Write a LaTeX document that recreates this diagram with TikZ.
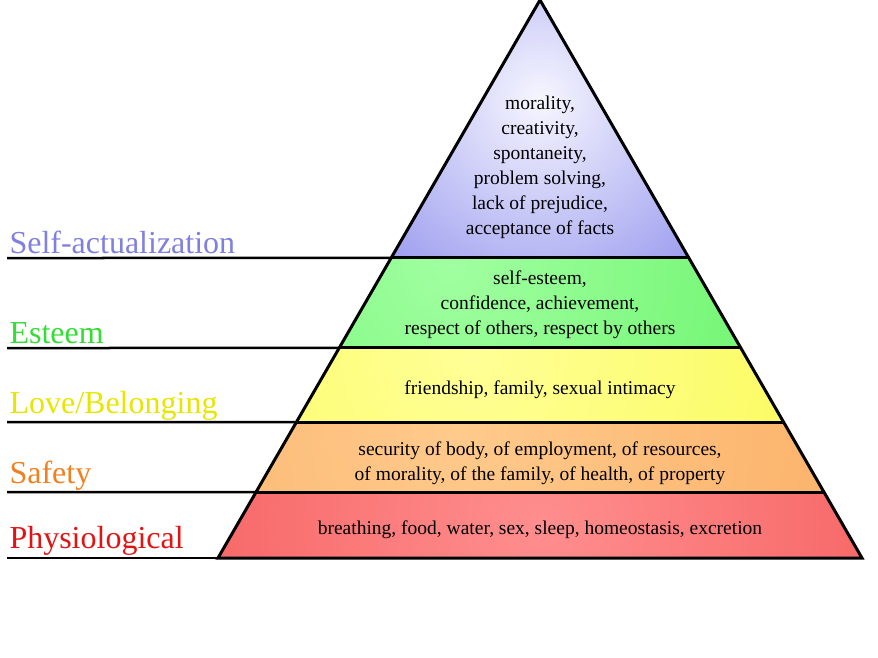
\documentclass[tikz,border=0pt]{standalone}
\usepackage{fontspec}
\setmainfont{Liberation Serif}
\usetikzlibrary{calc}

\definecolor{selfc}{HTML}{8080E0}
\definecolor{esteemc}{HTML}{33DD33}
\definecolor{lovec}{HTML}{E6E600}
\definecolor{safec}{HTML}{F08020}
\definecolor{physc}{HTML}{E01414}

\begin{document}
\begin{tikzpicture} [x=1pt, y=-1pt, line width=3pt, level/.style = {anchor=base west, inner sep=0pt, font=\fontsize{32}{34}\selectfont}, need/.style = {align=center, font=\fontsize{19.5}{25}\selectfont}]
\useasboundingbox (0,0) rectangle (878,658);
\coordinate (t) at (540,0);
\coordinate (bl) at (218,558);
\coordinate (br) at (862,558);
\foreach \n/\y in {1/258,2/348,3/422,4/492,5/558} {
	\pgfmathsetmacro{\f}{\y/558}
	\coordinate (l\n) at ($(t)!\f!(bl)$);
	\coordinate (r\n) at ($(t)!\f!(br)$);
	\coordinate (e\n) at (7,\y);
}
% shaded bands
\begin{scope}
	\clip (t) -- (r1) -- (l1) -- cycle;
	\shade[inner color={rgb,255:red,246;green,246;blue,255}, outer color={rgb,255:red,116;green,116;blue,232}] (540,100) circle (320);
\end{scope}
\begin{scope}
	\clip (l1) -- (r1) -- (r2) -- (l2) -- cycle;
	\shade[inner color={rgb,255:red,160;green,255;blue,160}, outer color={rgb,255:red,76;green,238;blue,76}] (450,265) circle (600);
\end{scope}
\begin{scope}
	\clip (l2) -- (r2) -- (r3) -- (l3) -- cycle;
	\shade[inner color={rgb,255:red,255;green,255;blue,150}, outer color={rgb,255:red,248;green,248;blue,60}] (470,355) circle (600);
\end{scope}
\begin{scope}
	\clip (l3) -- (r3) -- (r4) -- (l4) -- cycle;
	\shade[inner color={rgb,255:red,255;green,202;blue,140}, outer color={rgb,255:red,248;green,160;blue,80}] (460,430) circle (700);
\end{scope}
\begin{scope}
	\clip (l4) -- (r4) -- (r5) -- (l5) -- cycle;
	\shade[inner color={rgb,255:red,255;green,142;blue,142}, outer color={rgb,255:red,240;green,70;blue,70}] (540,525) circle (640);
\end{scope}
% outline and level lines
\draw (t) -- (br) -- (bl) -- cycle;
\foreach \n in {1,...,4} {
	\draw[line width=2.5pt] (e\n) -- (l\n);
	\draw (l\n) -- (r\n);
}
\draw[line width=2.5pt] (e5) -- (bl);
% level names
\node[level, text=selfc] (1) at (8,253) {Self-actualization};
\node[level, text=esteemc] (2) at (8,343) {Esteem};
\node[level, text=lovec] (3) at (8,413) {Love/Belonging};
\node[level, text=safec] (4) at (8,483) {Safety};
\node[level, text=physc] (5) at (8,548) {Physiological};
% needs
\node[need] (n1) at (540,167) {morality,\\creativity,\\spontaneity,\\problem solving,\\lack of prejudice,\\acceptance of facts};
\node[need] (n2) at (540,305) {self-esteem,\\confidence, achievement,\\respect of others, respect by others};
\node[need] (n3) at (540,390) {friendship, family, sexual intimacy};
\node[need] (n4) at (540,463) {security of body, of employment, of resources,\\of morality, of the family, of health, of property};
\node[need] (n5) at (540,530) {breathing, food, water, sex, sleep, homeostasis, excretion};
\end{tikzpicture}
\end{document}
